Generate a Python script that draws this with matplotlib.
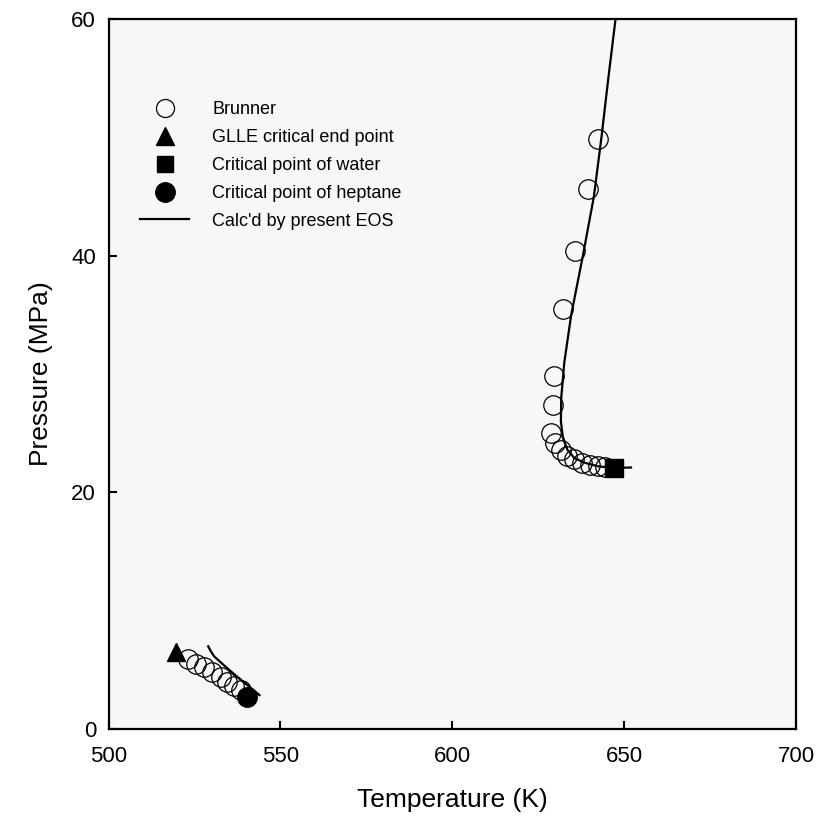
import matplotlib
matplotlib.use("Agg")
import matplotlib.pyplot as plt
from matplotlib.lines import Line2D

plt.rcParams["font.family"] = ["Liberation Sans", "DejaVu Sans"]

# Brunner data, low-temperature (heptane-rich) branch
brunner_T_low = [523.1, 525.5, 527.7, 530.2, 532.6, 534.6, 536.6, 538.5]
brunner_P_low = [5.96, 5.53, 5.20, 4.83, 4.41, 3.99, 3.62, 3.29]

# Brunner data, high-temperature (water-rich) branch
brunner_T_high = [642.5, 639.6, 635.8, 632.3, 629.5, 629.2, 628.8, 629.8,
                  631.5, 633.5, 635.5, 637.8, 640.2, 642.5, 644.5]
brunner_P_high = [49.9, 45.6, 40.4, 35.5, 29.8, 27.4, 25.0, 24.2,
                  23.6, 23.1, 22.8, 22.5, 22.3, 22.2, 22.1]

# GLLE critical end point and pure-component critical points
glle_T, glle_P = [519.5], [6.5]
water_T, water_P = [647.1], [22.06]
heptane_T, heptane_P = [540.2], [2.74]

# EOS curves
eos_T_low = [529.0, 529.7, 530.7, 534.1, 538.0, 541.0, 543.9]
eos_P_low = [6.99, 6.6, 6.15, 5.25, 4.27, 3.57, 2.87]

eos_T_high = [647.5, 645.4, 643.4, 641.2, 638.0, 634.6, 632.6, 631.7,
              631.6, 632.2, 633.5, 635.5, 638.5, 642.5, 647.1, 652.0]
eos_P_high = [60.0, 55.0, 50.0, 45.0, 40.0, 35.0, 31.0, 28.0,
              26.0, 24.6, 23.6, 22.9, 22.5, 22.2, 22.06, 22.1]

fig = plt.figure(figsize=(8.26, 8.22), dpi=100)
ax = fig.add_axes([0.1314, 0.1131, 0.8323, 0.8638])
ax.set_facecolor("#f7f7f7")

circ = dict(marker="o", ms=14, mfc="none", mec="black", mew=0.9, ls="none")
ax.plot(brunner_T_low, brunner_P_low, **circ)
ax.plot(brunner_T_high, brunner_P_high, **circ)

ax.plot(eos_T_low, eos_P_low, color="black", lw=1.6)
ax.plot(eos_T_high, eos_P_high, color="black", lw=1.6)

ax.plot(glle_T, glle_P, marker="^", ms=13, color="black", ls="none")
ax.plot(water_T, water_P, marker="s", ms=13, color="black", ls="none")
ax.plot(heptane_T, heptane_P, marker="o", ms=14, color="black", ls="none")

ax.set_xlim(500, 700)
ax.set_ylim(0, 60)
ax.set_xticks([500, 550, 600, 650, 700])
ax.set_yticks([0, 20, 40, 60])
ax.tick_params(direction="in", length=6, width=1.5, labelsize=16,
               top=False, right=False)
ax.tick_params(axis="x", pad=12)
ax.tick_params(axis="y", pad=9)
for s in ax.spines.values():
    s.set_linewidth(1.6)

ax.set_xlabel("Temperature (K)", fontsize=19, labelpad=15)
ax.set_ylabel("Pressure (MPa)", fontsize=19, labelpad=13)

handles = [
    Line2D([], [], marker="o", ms=13, mfc="none", mec="black", mew=0.9, ls="none"),
    Line2D([], [], marker="^", ms=13, color="black", ls="none"),
    Line2D([], [], marker="s", ms=12, color="black", ls="none"),
    Line2D([], [], marker="o", ms=14, color="black", ls="none"),
    Line2D([], [], color="black", lw=1.6),
]
labels = ["Brunner", "GLLE critical end point", "Critical point of water",
          "Critical point of heptane", "Calc'd by present EOS"]
ax.legend(handles, labels, loc="upper left", bbox_to_anchor=(0.046, 0.884),
          frameon=False, fontsize=13, handlelength=2.7, handletextpad=1.3,
          labelspacing=0.6, borderpad=0, borderaxespad=0)

fig.savefig("out.png", dpi=100)
